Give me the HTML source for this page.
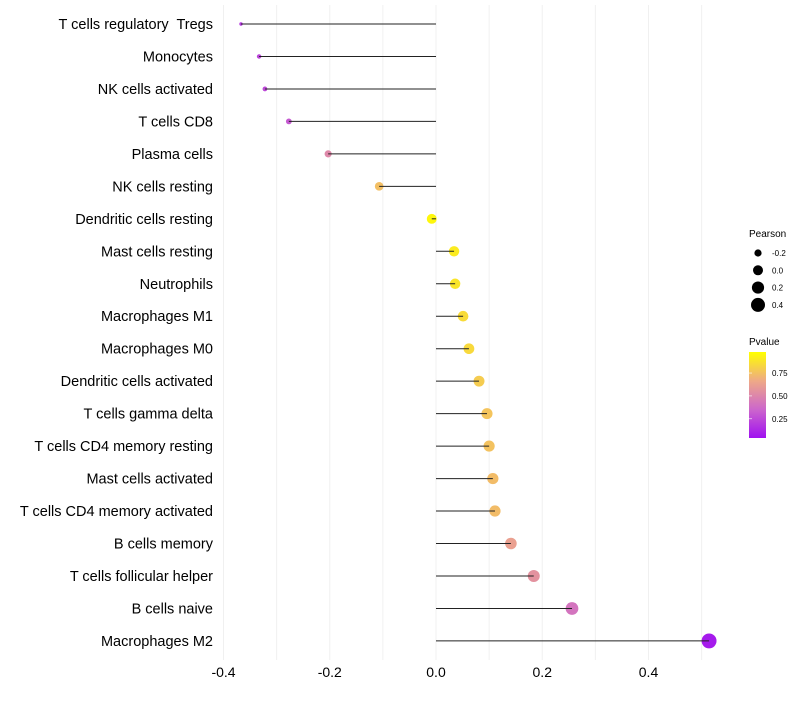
<!DOCTYPE html>
<html><head><meta charset="utf-8"><style>
body{margin:0;background:#fff;font-family:"Liberation Sans",sans-serif}
</style></head><body>
<svg id="chart" width="800" height="700" xmlns="http://www.w3.org/2000/svg">
<g id="grid"></g><g id="marks"></g><g id="labels"></g>
<g id="legend">
<text x="749" y="237" font-size="10" fill="#000">Pearson</text>
<g id="sizeLegend"></g>
<text x="749" y="345" font-size="10" fill="#000">Pvalue</text>
<defs><linearGradient id="pg" x1="0" y1="1" x2="0" y2="0">
<stop offset="0" stop-color="#a010f0"/><stop offset="0.33" stop-color="#cc66cc"/><stop offset="0.66" stop-color="#eea888"/><stop offset="1" stop-color="#ffff00"/></linearGradient></defs>
<rect x="749" y="352" width="17" height="86" fill="url(#pg)"/>
<g id="cbTicks"></g>
</g>
</svg>
<script>
const categories=["T cells regulatory  Tregs","Monocytes","NK cells activated","T cells CD8","Plasma cells","NK cells resting","Dendritic cells resting","Mast cells resting","Neutrophils","Macrophages M1","Macrophages M0","Dendritic cells activated","T cells gamma delta","T cells CD4 memory resting","Mast cells activated","T cells CD4 memory activated","B cells memory","T cells follicular helper","B cells naive","Macrophages M2"];
const pearson=[-0.367,-0.333,-0.322,-0.277,-0.203,-0.107,-0.008,0.034,0.036,0.051,0.062,0.081,0.096,0.1,0.107,0.111,0.141,0.184,0.256,0.514];
const pvalues=[0.15,0.2,0.22,0.28,0.5,0.75,0.97,0.92,0.9,0.86,0.85,0.8,0.77,0.76,0.74,0.74,0.62,0.55,0.4,0.04];
const xTicks=[-0.4,-0.2,0,0.2,0.4];
const sizeLegendVals=[-0.2,0,0.2,0.4];
const cbTickVals=[0.25,0.5,0.75];
const NS="http://www.w3.org/2000/svg";
const xs=v=>436+v*531.25;
const ys=i=>24+i*32.47;
const rs=v=>Math.sqrt(Math.max(2,25+60*v));
const cbY=p=>438-(p-0.04)/0.94*86;
function hex(h){return[parseInt(h.slice(1,3),16),parseInt(h.slice(3,5),16),parseInt(h.slice(5,7),16)];}
const stops=[[0,hex("#a010f0")],[0.33,hex("#cc66cc")],[0.66,hex("#eea888")],[1,hex("#ffff00")]];
function col(p){p=Math.max(0,Math.min(1,p));for(let k=0;k<stops.length-1;k++){const a=stops[k],b=stops[k+1];if(p<=b[0]){const t=(p-a[0])/(b[0]-a[0]);return "rgb("+a[1].map((c,j)=>Math.round(c+(b[1][j]-c)*t)).join(",")+")";}}return "#ff0";}
function mk(tag,attrs,parent){const e=document.createElementNS(NS,tag);for(const k in attrs)e.setAttribute(k,attrs[k]);parent.appendChild(e);return e;}
const grid=document.getElementById('grid'),marks=document.getElementById('marks'),labels=document.getElementById('labels');
for(let v=-0.4;v<=0.52;v+=0.1){const g=mk('line',{x1:xs(v),x2:xs(v),y1:5,y2:660,stroke:'#f0f0f0','stroke-width':1},grid);

}
xTicks.forEach(v=>{const t=mk('text',{x:xs(v),y:677,'font-size':14,'text-anchor':'middle',fill:'#000'},labels);t.textContent=(v===0?"0.0":v.toFixed(1));

});
categories.forEach((c,i)=>{const y=ys(i);
const t=mk('text',{x:213,y:y+5,'font-size':14.5,'text-anchor':'end',fill:'#000',style:'white-space:pre'},labels);t.textContent=c;


const pt=mk('circle',{cx:xs(pearson[i]),cy:y,r:rs(pearson[i]),fill:col(pvalues[i])},marks);


const l=mk('line',{x1:xs(0),x2:xs(pearson[i]),y1:y,y2:y,stroke:'#222','stroke-width':1},marks);

});
const sl=document.getElementById('sizeLegend');
sizeLegendVals.forEach((v,k)=>{const y=253+k*17.3;
const c=mk('circle',{cx:758,cy:y,r:rs(v),fill:'#000'},sl);


const t=mk('text',{x:772,y:y+3,'font-size':8,fill:'#000'},sl);t.textContent=v===0?"0.0":String(v);

});
const cb=document.getElementById('cbTicks');
cbTickVals.forEach(p=>{const y=cbY(p);
const l=mk('line',{x1:749,x2:752,y1:y,y2:y,stroke:'#fff','stroke-width':0.6},cb);


const t=mk('text',{x:772,y:y+3,'font-size':8,fill:'#000'},cb);t.textContent=p.toFixed(2);

});
</script>
</body></html>
